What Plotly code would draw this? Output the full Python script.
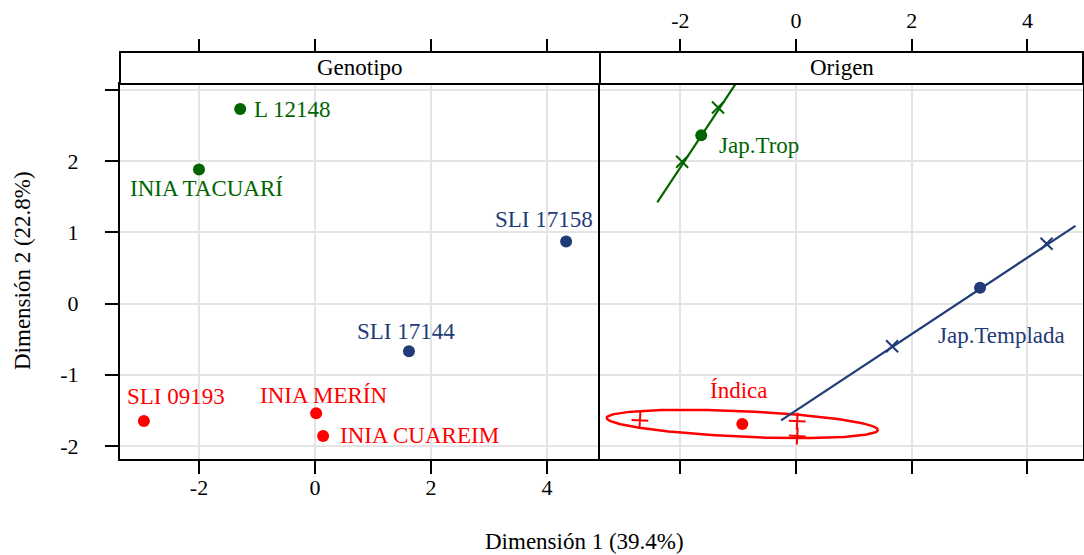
import numpy as np
import plotly.graph_objects as go

W, H = 1084, 555
FONT = "Liberation Serif"

# ---- data -------------------------------------------------------------
genotipos = ["L 12148", "INIA TACUARÍ", "SLI 17158", "SLI 17144",
             "SLI 09193", "INIA MERÍN", "INIA CUAREIM"]
gen_x = [-1.29, -2.00, 4.33, 1.62, -2.95, 0.02, 0.14]
gen_y = [2.73, 1.88, 0.87, -0.67, -1.65, -1.54, -1.86]
gen_grupo = ["Jap.Trop", "Jap.Trop", "Jap.Templada", "Jap.Templada",
             "Índica", "Índica", "Índica"]

origenes = ["Jap.Trop", "Jap.Templada", "Índica"]
orig_x = [-1.64, 3.18, -0.93]
orig_y = [2.36, 0.22, -1.69]

# projected genotypes on each origin's axis
trop_proj_x = [-1.97, -1.35]
trop_proj_y = [1.99, 2.75]
temp_proj_x = [1.66, 4.33]
temp_proj_y = [-0.60, 0.84]
ind_proj_x = [-2.70, 0.02, 0.02]
ind_proj_y = [-1.64, -1.65, -1.86]

# principal-axis segments
trop_seg_x = [-2.40, -0.95]
trop_seg_y = [1.42, 3.20]
temp_seg_x = [-0.26, 4.83]
temp_seg_y = [-1.64, 1.09]

# concentration ellipse for Índica: centre + two conjugate semi-axes
ind_axis_a = (2.344, -0.084)
ind_axis_b = (0.0, 0.18)

xticks = [-2, 0, 2, 4]
xtick_text = ["-2", "0", "2", "4"]
yticks = [-2, -1, 0, 1, 2, 3]
ytick_text = ["-2", "-1", "0", "1", "2", ""]

colores = {"Jap.Trop": "#006400", "Jap.Templada": "#1f3b78", "Índica": "#ff0000"}

# ---- geometry (pixels -> paper) ----------------------------------------
def px(x):
    return x / W

def py(y):
    return 1 - y / H

L0, L1, R1 = 120, 600, 1083
TOP, BOT, STRIP = 84, 459, 52
TXT = 23

fig = go.Figure()

# left panel: genotypes
fig.add_trace(go.Scatter(
    x=gen_x, y=gen_y, mode="markers", xaxis="x", yaxis="y",
    marker=dict(size=12, color=[colores[g] for g in gen_grupo]),
    showlegend=False, hoverinfo="skip"))

# right panel: axes, projections, centroids
t = np.linspace(0, 2 * np.pi, 200)
ex = orig_x[2] + ind_axis_a[0] * np.cos(t) + ind_axis_b[0] * np.sin(t)
ey = orig_y[2] + ind_axis_a[1] * np.cos(t) + ind_axis_b[1] * np.sin(t)
fig.add_trace(go.Scatter(x=ex, y=ey, mode="lines", xaxis="x2", yaxis="y2",
                         line=dict(color=colores["Índica"], width=2.5),
                         showlegend=False, hoverinfo="skip"))
fig.add_trace(go.Scatter(x=trop_seg_x, y=trop_seg_y, mode="lines", xaxis="x2", yaxis="y2",
                         line=dict(color=colores["Jap.Trop"], width=2.2),
                         showlegend=False, hoverinfo="skip"))
fig.add_trace(go.Scatter(x=temp_seg_x, y=temp_seg_y, mode="lines", xaxis="x2", yaxis="y2",
                         line=dict(color=colores["Jap.Templada"], width=2.2),
                         showlegend=False, hoverinfo="skip"))

for gx, gy, col, sym, ang in [(trop_proj_x, trop_proj_y, colores["Jap.Trop"], "x-thin", 0),
                              (temp_proj_x, temp_proj_y, colores["Jap.Templada"], "x-thin", 0),
                              (ind_proj_x, ind_proj_y, colores["Índica"], "cross-thin", 3)]:
    fig.add_trace(go.Scatter(
        x=gx, y=gy, mode="markers", xaxis="x2", yaxis="y2",
        marker=dict(symbol=sym, size=12, angle=ang,
                    line=dict(color=col, width=2)),
        showlegend=False, hoverinfo="skip"))

fig.add_trace(go.Scatter(
    x=orig_x, y=orig_y, mode="markers", xaxis="x2", yaxis="y2",
    marker=dict(size=12, color=[colores[o] for o in origenes]),
    showlegend=False, hoverinfo="skip"))

# empty traces so the top tick axes get their own subplots
fig.add_trace(go.Scatter(x=[None], y=[None], xaxis="x3", yaxis="y", showlegend=False))
fig.add_trace(go.Scatter(x=[None], y=[None], xaxis="x4", yaxis="y2", showlegend=False))

# ---- axes ---------------------------------------------------------------
grid = "#e4e4e4"
tickfont = dict(family=FONT, size=22, color="black")
xr_left = [-3.362, 4.914]
xr_right = [-3.39, 4.96]
yr = [-2.182, 3.081]
ydom = [py(BOT), py(TOP)]

common_x = dict(tickvals=xticks, ticktext=xtick_text, ticks="outside", ticklen=13,
                tickwidth=1.5, tickcolor="black", zeroline=False, tickfont=tickfont)

fig.update_layout(
    xaxis=dict(domain=[px(L0), px(L1)], range=xr_left, anchor="y",
               showline=True, linecolor="black", linewidth=2, mirror=True,
               showgrid=True, gridcolor=grid, gridwidth=2,
               ticklabelstandoff=-5, **common_x),
    xaxis3=dict(overlaying="x", range=xr_left, anchor="free", position=py(STRIP),
                side="top", showticklabels=False, showgrid=False, showline=False,
                **common_x),
    xaxis2=dict(domain=[px(L1), px(R1)], range=xr_right, anchor="y2",
                showline=True, linecolor="black", linewidth=2, mirror=True,
                showgrid=True, gridcolor=grid, gridwidth=2,
                showticklabels=False, **common_x),
    xaxis4=dict(overlaying="x2", range=xr_right, anchor="free", position=py(STRIP),
                side="top", showgrid=False, showline=False,
                ticklabelstandoff=2, **common_x),
    yaxis=dict(domain=ydom, range=yr, anchor="x", tickvals=yticks, ticktext=ytick_text,
               ticks="outside", ticklen=13, tickwidth=1.5, tickcolor="black",
               showline=True, linecolor="black", linewidth=2, mirror=False,
               showgrid=True, gridcolor=grid, gridwidth=2, zeroline=False,
               tickfont=tickfont, ticklabelstandoff=22),
    yaxis2=dict(domain=ydom, range=yr, anchor="x2", matches="y", tickvals=yticks,
                showticklabels=False, ticks="",
                showline=True, linecolor="black", linewidth=2, mirror=True,
                showgrid=True, gridcolor=grid, gridwidth=2, zeroline=False),
    width=W, height=H, margin=dict(l=0, r=0, t=0, b=0),
    plot_bgcolor="white", paper_bgcolor="white",
    font=dict(family=FONT, color="black"),
    showlegend=False,
)

# strips
for x0, x1, label in [(L0, L1, "Genotipo"), (L1, R1, "Origen")]:
    fig.add_shape(type="rect", xref="paper", yref="paper",
                  x0=px(x0), x1=px(x1), y0=py(TOP), y1=py(STRIP),
                  line=dict(color="black", width=2), fillcolor="white", layer="above")
    fig.add_annotation(text=label, xref="paper", yref="paper",
                       x=px((x0 + x1) / 2), y=py((TOP + STRIP) / 2),
                       xanchor="center", yanchor="middle",
                       showarrow=False, font=dict(family=FONT, size=TXT, color="black"))

# axis titles
fig.add_annotation(text="Dimensión 1 (39.4%)", xref="paper", yref="paper",
                   x=px(584), y=py(541), xanchor="center", yanchor="middle",
                   showarrow=False, font=dict(family=FONT, size=TXT, color="black"))
fig.add_annotation(text="Dimensión 2 (22.8%)", xref="paper", yref="paper",
                   x=px(22), y=py(271), xanchor="center", yanchor="middle",
                   showarrow=False, textangle=-90,
                   font=dict(family=FONT, size=TXT, color="black"))

# point labels: (xanchor, xshift, yshift)
gen_offsets = [("left", 12, 0), ("center", 8, -19), ("center", -22, 22),
               ("center", -3, 20), ("center", 32, 25), ("center", 8, 18),
               ("left", 15, 1)]
for name, x, y, g, (xa, dx, dy) in zip(genotipos, gen_x, gen_y, gen_grupo, gen_offsets):
    fig.add_annotation(text=name, x=x, y=y, xref="x", yref="y", showarrow=False,
                       xanchor=xa, yanchor="middle", xshift=dx, yshift=dy,
                       font=dict(family=FONT, size=TXT, color=colores[g]))

orig_offsets = [("left", 16, -10), ("center", 21, -48), ("center", -4, 33)]
for name, x, y, (xa, dx, dy) in zip(origenes, orig_x, orig_y, orig_offsets):
    fig.add_annotation(text=name, x=x, y=y, xref="x2", yref="y2", showarrow=False,
                       xanchor=xa, yanchor="middle", xshift=dx, yshift=dy,
                       font=dict(family=FONT, size=TXT, color=colores[name]))

fig.write_html("out.html")
